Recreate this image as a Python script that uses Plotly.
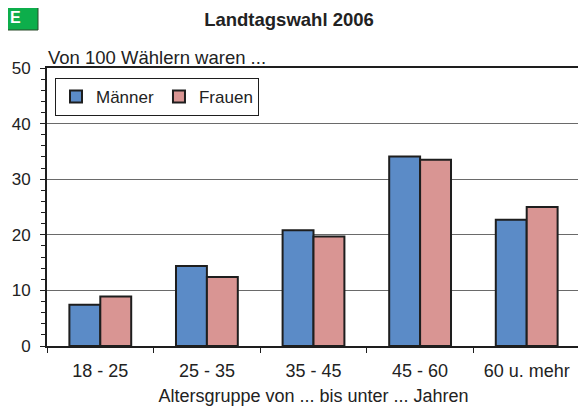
import plotly.graph_objects as go

# Landtagswahl 2006 - Wähler nach Altersgruppe und Geschlecht
altersgruppen = ["18 - 25", "25 - 35", "35 - 45", "45 - 60", "60 u. mehr"]
maenner = [7.4, 14.4, 20.8, 34.1, 22.7]
frauen = [8.9, 12.4, 19.7, 33.5, 25.0]

# Seite hat 8px Body-Rand -> Figur etwas kleiner, alles um 8px versetzt
OFF = 8
W, H = 586 - OFF, 406 - OFF
ML, MT = 47 - OFF, 68 - OFF
PW, PH = 533, 278
MR, MB = W - ML - PW, H - MT - PH

FONT = "Liberation Sans, Arial, sans-serif"
DARK = "#1e1e1e"


def px_x(px):
    # Bildschirm-Pixel -> Paper-Koordinate (x)
    return (px - OFF - ML) / PW


def px_y(px):
    # Bildschirm-Pixel von oben -> Paper-Koordinate (y)
    return 1 - (px - OFF - MT) / PH


fig = go.Figure()
fig.add_trace(go.Bar(
    x=altersgruppen, y=maenner, name="Männer",
    marker=dict(color="#5B8BC7", line=dict(color=DARK, width=2)),
))
fig.add_trace(go.Bar(
    x=altersgruppen, y=frauen, name="Frauen",
    marker=dict(color="#D99593", line=dict(color=DARK, width=2)),
))

fig.update_xaxes(
    showline=True, linecolor=DARK, linewidth=2, mirror=True,
    ticks="outside", ticklen=5, tickcolor=DARK, tickwidth=1,
    tickson="boundaries", ticklabelstandoff=7,
    tickfont=dict(size=18, color="#222"),
    title=dict(text="Altersgruppe von ... bis unter ... Jahren",
               font=dict(size=18, color="#222"), standoff=11),
    showgrid=False,
)
fig.update_yaxes(
    range=[0, 50], dtick=10,
    showline=True, linecolor=DARK, linewidth=2, mirror=True,
    ticks="outside", ticklen=5, tickcolor=DARK, tickwidth=1,
    minor=dict(dtick=2, ticks="outside", ticklen=4, tickcolor=DARK, showgrid=False),
    ticklabelstandoff=6,
    tickfont=dict(size=17, color="#222"),
    showgrid=True, gridcolor="#6a6a6a", gridwidth=1,
    zeroline=False,
)

fig.update_layout(
    width=W, height=H,
    margin=dict(l=ML, r=MR, t=MT, b=MB, autoexpand=False),
    plot_bgcolor="white", paper_bgcolor="white",
    font=dict(family=FONT, color="#222"),
    barmode="group", bargap=0.42, bargroupgap=0,
    title=dict(text="<b>Landtagswahl 2006</b>", font=dict(size=18.5, color="#222"),
               x=(289 - OFF) / W, xanchor="center", y=1 - (20 - OFF) / H, yanchor="middle"),
    legend=dict(
        orientation="h", x=px_x(55), y=px_y(78), xanchor="left", yanchor="top",
        bordercolor=DARK, borderwidth=1, bgcolor="white",
        font=dict(size=17), itemwidth=30,
    ),
    showlegend=True,
)

# Untertitel über dem Diagramm
fig.add_annotation(
    text="Von 100 Wählern waren ...", xref="paper", yref="paper",
    x=px_x(46), y=1, xanchor="left", yanchor="bottom", yshift=-2,
    showarrow=False, font=dict(size=18.5, color="#222"),
)

# grünes Kästchen oben links
fig.add_shape(
    type="rect", xref="paper", yref="paper",
    x0=px_x(4), x1=px_x(38), y0=px_y(30), y1=px_y(4),
    fillcolor="#0DAE4B", line=dict(color="#2a4a2a", width=1),
)
fig.add_annotation(
    text="<b>E</b>", xref="paper", yref="paper",
    x=px_x(8), y=px_y(17), xanchor="left", yanchor="middle",
    showarrow=False, font=dict(size=16, color="white"),
)

fig.write_html("out.html")
